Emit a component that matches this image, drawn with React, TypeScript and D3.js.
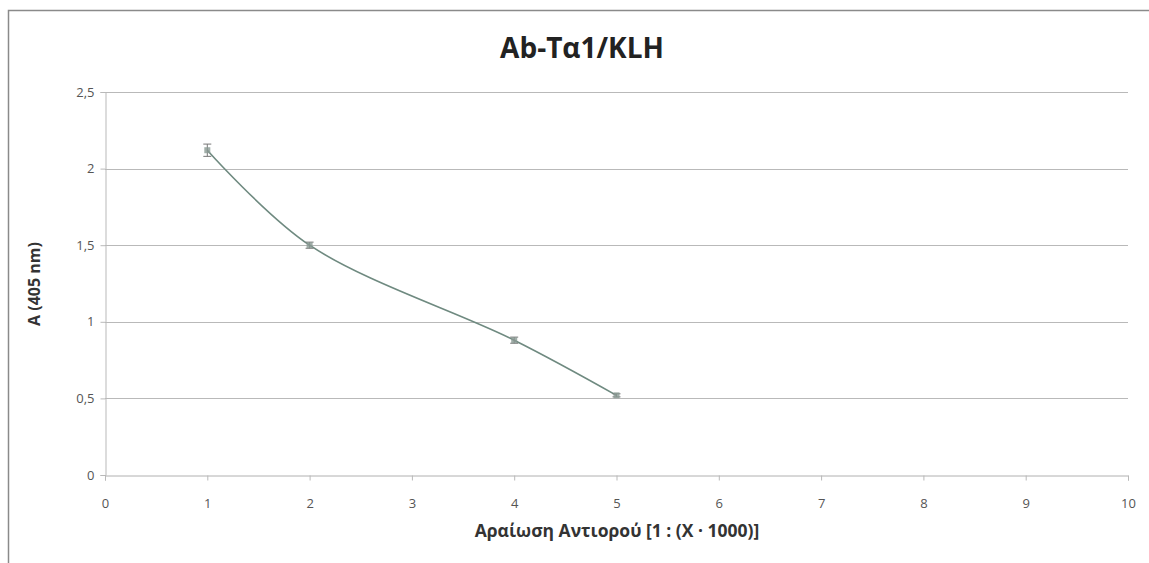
import { useRef, useEffect } from "react";
import * as d3 from "d3";

const dilutions = [1, 2, 4, 5];
const absorbance = [2.12, 1.5, 0.88, 0.52];
const errors = [0.04, 0.02, 0.02, 0.01];
const xTicks = [0, 1, 2, 3, 4, 5, 6, 7, 8, 9, 10];
const yTicks = [0, 0.5, 1, 1.5, 2, 2.5];

const W = 1149;
const H = 563;

export default function App() {
  const svgRef = useRef<SVGSVGElement>(null);

  useEffect(() => {
    if (!svgRef.current) return;
    const svg = d3.select(svgRef.current);
    svg.selectAll("*").remove();

    const margin = { top: 92, right: 21, bottom: 88, left: 105 };
    const width = W - margin.left - margin.right;
    const height = H - margin.top - margin.bottom;

    // outer chart frame (only top and left edges are visible in the crop)
    svg.append("path")
      .attr("d", `M8.5,${H} L8.5,10.5 L${W},10.5`)
      .attr("fill", "none")
      .attr("stroke", "#8a8a8a")
      .attr("stroke-width", 1.5);

    const g = svg.append("g").attr("transform", `translate(${margin.left},${margin.top})`);

    const x = d3.scaleLinear().domain([0, 10]).range([0, width]);
    const y = d3.scaleLinear().domain([0, 2.5]).range([height, 0]);
    const fmt = (d: number) => String(d).replace(".", ",");

    // gridlines
    g.append("g")
      .selectAll("line")
      .data(yTicks.filter((d) => d > 0))
      .join("line")
      .attr("x1", 0)
      .attr("x2", width)
      .attr("y1", (d) => Math.round(y(d)) + 0.5)
      .attr("y2", (d) => Math.round(y(d)) + 0.5)
      .attr("stroke", "#b9b9b9")
      .attr("stroke-width", 1);

    // y axis
    g.append("g")
      .attr("transform", "translate(0.5,0)")
      .call(d3.axisLeft(y).tickValues(yTicks).tickFormat((d) => fmt(+d)).tickSize(5).tickPadding(6))
      .call((a) => a.select(".domain").attr("stroke", "#b9b9b9"))
      .call((a) => a.selectAll(".tick line").attr("stroke", "#b9b9b9"))
      .call((a) => a.selectAll(".tick text").attr("fill", "#555").attr("font-size", "13px").attr("font-family", "Open Sans, sans-serif"));

    // x axis
    g.append("g")
      .attr("transform", `translate(0,${Math.round(height) + 0.5})`)
      .call(d3.axisBottom(x).tickValues(xTicks).tickFormat((d) => `${d}`).tickSize(5).tickPadding(18))
      .call((a) => a.select(".domain").attr("stroke", "#b0b0b0"))
      .call((a) => a.selectAll(".tick line").attr("stroke", "#b9b9b9"))
      .call((a) => a.selectAll(".tick text").attr("fill", "#555").attr("font-size", "13px").attr("font-family", "Open Sans, sans-serif"));

    const pts = dilutions.map((d, i) => ({ x: d, y: absorbance[i], e: errors[i] }));

    const line = d3.line<{ x: number; y: number }>()
      .x((d) => x(d.x))
      .y((d) => y(d.y))
      .curve(d3.curveCatmullRom.alpha(0.5));

    g.append("path")
      .datum(pts)
      .attr("d", line)
      .attr("fill", "none")
      .attr("stroke", "#6f8a80")
      .attr("stroke-width", 1.6);

    // error bars
    const eb = g.append("g").attr("stroke", "#777").attr("stroke-width", 1);
    pts.forEach((p) => {
      eb.append("line").attr("x1", x(p.x)).attr("x2", x(p.x)).attr("y1", y(p.y + p.e)).attr("y2", y(p.y - p.e));
      eb.append("line").attr("x1", x(p.x) - 4).attr("x2", x(p.x) + 4).attr("y1", y(p.y + p.e)).attr("y2", y(p.y + p.e));
      eb.append("line").attr("x1", x(p.x) - 4).attr("x2", x(p.x) + 4).attr("y1", y(p.y - p.e)).attr("y2", y(p.y - p.e));
    });

    // markers
    g.append("g")
      .selectAll("rect")
      .data(pts)
      .join("rect")
      .attr("x", (d) => x(d.x) - 3)
      .attr("y", (d) => y(d.y) - 3)
      .attr("width", 6)
      .attr("height", 6)
      .attr("fill", "#8a9a94")
      .attr("opacity", 0.8);

    // titles
    svg.append("text")
      .attr("x", 582)
      .attr("y", 58)
      .attr("text-anchor", "middle")
      .attr("font-family", "Open Sans, sans-serif")
      .attr("font-weight", 700)
      .attr("font-size", "28px")
      .attr("fill", "#222")
      .text("Ab-Tα1/KLH");

    svg.append("text")
      .attr("x", 617)
      .attr("y", 537)
      .attr("text-anchor", "middle")
      .attr("font-family", "Open Sans, sans-serif")
      .attr("font-weight", 700)
      .attr("font-size", "17.5px")
      .attr("fill", "#333")
      .text("Αραίωση Αντιορού [1 : (X · 1000)]");

    svg.append("text")
      .attr("transform", `translate(40,${284}) rotate(-90)`)
      .attr("text-anchor", "middle")
      .attr("font-family", "Open Sans, sans-serif")
      .attr("font-weight", 700)
      .attr("font-size", "16px")
      .attr("fill", "#333")
      .text("A (405 nm)");
  }, []);

  return (
    <div style={{ position: "absolute", left: 0, top: 0, width: W, height: H, background: "#fff" }}>
      <svg ref={svgRef} width={W} height={H} style={{ display: "block" }} />
    </div>
  );
}
